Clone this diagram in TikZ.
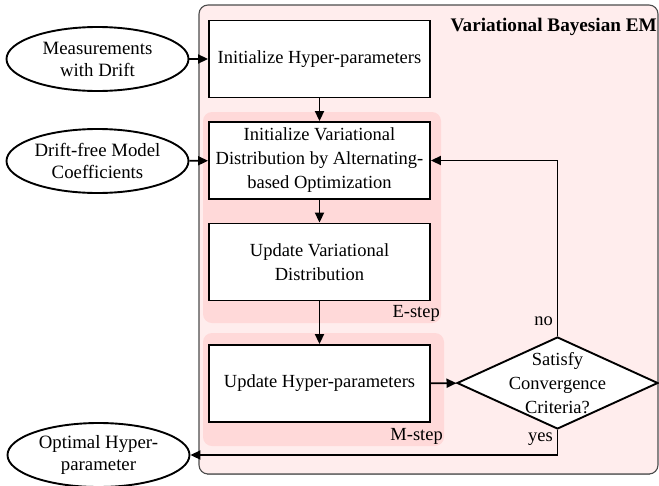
\documentclass[tikz,border=0pt]{standalone}
\usepackage{fontspec}
\setmainfont{Liberation Serif}
\usetikzlibrary{shapes.geometric,arrows.meta}
\definecolor{emback}{RGB}{255,237,237}
\definecolor{stepback}{RGB}{255,217,217}
\begin{document}
\begin{tikzpicture}[x=1pt,y=-1pt,
  every node/.style={font=\fontsize{18.5}{24}\selectfont},
  proc/.style={draw, line width=1.9pt, fill=white, minimum width=221pt,
    minimum height=77pt, inner sep=0pt, align=center},
  io/.style={draw, ellipse, line width=1.9pt, fill=white, minimum width=182pt,
    minimum height=64pt, inner sep=0pt},
  decide/.style={draw, diamond, line width=1.9pt, fill=white,
    minimum width=201pt, minimum height=92pt, inner sep=0pt},
  lbl/.style={align=center, inner sep=0pt, font=\fontsize{18.8}{22}\selectfont},
  flow/.style={line width=1.9pt, -{Triangle[length=10pt,width=9pt]}},
  region/.style={fill=stepback, rounded corners=9pt}
]
\useasboundingbox (0,0) rectangle (659,485);

% Variational Bayesian EM frame
\draw[fill=emback, draw=black!70, line width=1.1pt, rounded corners=9pt]
  (199,5) rectangle (658,474);
\draw[black!55, line width=1.2pt] (207,474.6) -- (650,474.6);
\node[anchor=east, inner sep=0pt, font=\fontsize{19.2}{24}\selectfont\bfseries]
  (title) at (657,27) {Variational Bayesian EM};

% E-step and M-step regions
\fill[region] (203,112) rectangle (441,323);
\fill[region] (203,333) rectangle (444,446);
\node[anchor=east, inner sep=0pt] (estep) at (440,313) {E-step};
\node[anchor=east, inner sep=0pt] (mstep) at (443,436) {M-step};

% processing steps
\node[proc] (init)  at (319.5,59)    {Initialize Hyper-parameters};
\node[proc] (initq) at (319.5,160.5) {Initialize Variational\\Distribution by Alternating-\\based Optimization};
\node[proc] (updq)  at (319.5,262)   {Update Variational\\Distribution};
\node[proc] (updh)  at (319.5,383.5) {Update Hyper-parameters};

% convergence test
\node[decide] (conv) at (557.5,383) {};
\node[align=center, inner sep=0pt] (convtext) at (557.5,383) {Satisfy\\Convergence\\Criteria?};

% inputs and output
\node[io] (meas) at (97.5,59) {};
\node[lbl] (meastext) at (97.5,59) {Measurements\\with Drift};
\node[io] (coef) at (97.5,161) {};
\node[lbl] (coeftext) at (97.5,161) {Drift-free Model\\Coefficients};
\node[io] (opt) at (98.5,455) {};
\node[lbl] (opttext) at (98.5,455) {Optimal Hyper-\\parameter};

% connectors
\draw[flow] (meas) -- (init);
\draw[flow] (coef) -- (initq);
\draw[flow] (init) -- (initq);
\draw[flow] (initq) -- (updq);
\draw[flow] (updq) -- (updh);
\draw[flow] (updh) -- (conv);
\draw[flow] (conv.north) |- (initq.east);
\draw[flow] (conv.south) |- (opt.east);

% branch labels
\node[anchor=east, inner sep=0pt] (nolbl)  at (553,321) {no};
\node[anchor=east, inner sep=0pt] (yeslbl) at (553,439) {yes};
\end{tikzpicture}
\end{document}
